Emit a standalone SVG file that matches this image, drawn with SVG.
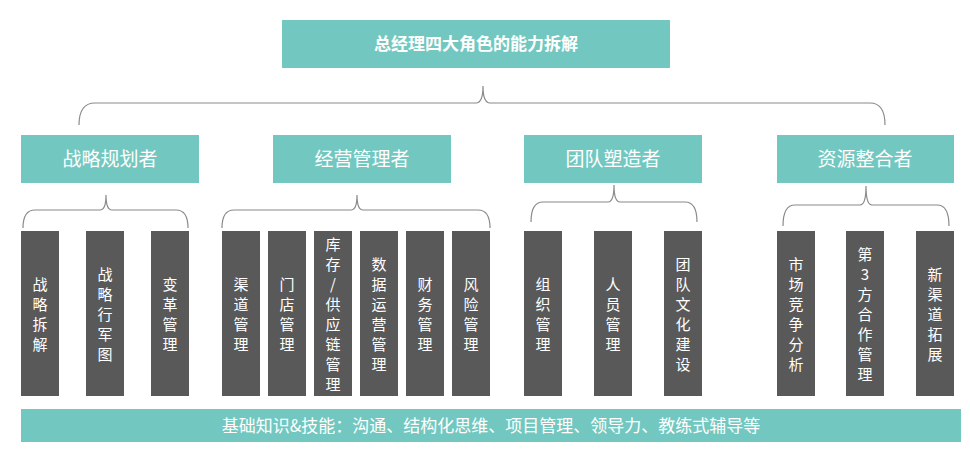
<svg xmlns="http://www.w3.org/2000/svg" width="970" height="452" viewBox="0 0 970 452">
<style>
.t{fill:#72c8c0}.d{fill:#595959}
.w{fill:#fff;font-family:"Noto Sans CJK SC","Noto Sans",sans-serif;text-anchor:middle}
.v{font-size:15px}.c{font-size:19px}
.b{fill:none;stroke:#8a8a8a;stroke-width:1.2}
</style>
<rect width="970" height="452" fill="#fff"/>
<g id="connectors">
<path class="b" d="M79,125 Q79,103 95,103 L476,103 Q483,103 483,86 Q483,103 490,103 L870,103 Q885,103 885,125"/>
<path class="b" d="M23,228 Q23,210 35,210 L100,210 Q106,210 106,195 Q106,210 112,210 L176,210 Q188,210 188,228"/>
<path class="b" d="M222,228 Q222,210 234,210 L351,210 Q357,210 357,195 Q357,210 363,210 L478,210 Q490,210 490,228"/>
<path class="b" d="M531,222 Q531,202 543,202 L608,202 Q614,202 614,185 Q614,202 620,202 L685,202 Q697,202 697,222"/>
<path class="b" d="M783,226 Q783,205 795,205 L860,205 Q866,205 866,186 Q866,205 872,205 L937,205 Q949,205 949,226"/>
</g>
<g id="title"><rect class="t" x="282" y="20" width="388" height="48"/><text class="w" x="476" y="50" font-size="17" font-weight="bold">总经理四大角色的能力拆解</text></g>
<g id="cat1"><rect class="t" x="21" y="135" width="178" height="48"/><text class="w c" x="110" y="166">战略规划者</text></g>
<g id="cat2"><rect class="t" x="273" y="135" width="178" height="48"/><text class="w c" x="362" y="166">经营管理者</text></g>
<g id="cat3"><rect class="t" x="524" y="135" width="178" height="48"/><text class="w c" x="613" y="166">团队塑造者</text></g>
<g id="cat4"><rect class="t" x="777" y="135" width="177" height="48"/><text class="w c" x="865" y="166">资源整合者</text></g>
<g id="i1"><rect class="d" x="21" y="231" width="38" height="165"/><text class="w v" x="40"><tspan x="40" y="290">战</tspan><tspan x="40" dy="20">略</tspan><tspan x="40" dy="20">拆</tspan><tspan x="40" dy="20">解</tspan></text></g>
<g id="i2"><rect class="d" x="86" y="231" width="38" height="165"/><text class="w v"><tspan x="105" y="280">战</tspan><tspan x="105" dy="20">略</tspan><tspan x="105" dy="20">行</tspan><tspan x="105" dy="20">军</tspan><tspan x="105" dy="20">图</tspan></text></g>
<g id="i3"><rect class="d" x="151" y="231" width="38" height="165"/><text class="w v"><tspan x="170" y="290">变</tspan><tspan x="170" dy="20">革</tspan><tspan x="170" dy="20">管</tspan><tspan x="170" dy="20">理</tspan></text></g>
<g id="i4"><rect class="d" x="222" y="231" width="38" height="165"/><text class="w v"><tspan x="241" y="290">渠</tspan><tspan x="241" dy="20">道</tspan><tspan x="241" dy="20">管</tspan><tspan x="241" dy="20">理</tspan></text></g>
<g id="i5"><rect class="d" x="268" y="231" width="38" height="165"/><text class="w v"><tspan x="287" y="290">门</tspan><tspan x="287" dy="20">店</tspan><tspan x="287" dy="20">管</tspan><tspan x="287" dy="20">理</tspan></text></g>
<g id="i6"><rect class="d" x="314" y="231" width="38" height="165"/><text class="w v"><tspan x="333" y="250">库</tspan><tspan x="333" dy="20">存</tspan><tspan x="333" dy="20">/</tspan><tspan x="333" dy="20">供</tspan><tspan x="333" dy="20">应</tspan><tspan x="333" dy="20">链</tspan><tspan x="333" dy="20">管</tspan><tspan x="333" dy="20">理</tspan></text></g>
<g id="i7"><rect class="d" x="360" y="231" width="38" height="165"/><text class="w v"><tspan x="379" y="270">数</tspan><tspan x="379" dy="20">据</tspan><tspan x="379" dy="20">运</tspan><tspan x="379" dy="20">营</tspan><tspan x="379" dy="20">管</tspan><tspan x="379" dy="20">理</tspan></text></g>
<g id="i8"><rect class="d" x="406" y="231" width="38" height="165"/><text class="w v"><tspan x="425" y="290">财</tspan><tspan x="425" dy="20">务</tspan><tspan x="425" dy="20">管</tspan><tspan x="425" dy="20">理</tspan></text></g>
<g id="i9"><rect class="d" x="452" y="231" width="38" height="165"/><text class="w v"><tspan x="471" y="290">风</tspan><tspan x="471" dy="20">险</tspan><tspan x="471" dy="20">管</tspan><tspan x="471" dy="20">理</tspan></text></g>
<g id="i10"><rect class="d" x="524" y="231" width="38" height="165"/><text class="w v"><tspan x="543" y="290">组</tspan><tspan x="543" dy="20">织</tspan><tspan x="543" dy="20">管</tspan><tspan x="543" dy="20">理</tspan></text></g>
<g id="i11"><rect class="d" x="594" y="231" width="38" height="165"/><text class="w v"><tspan x="613" y="290">人</tspan><tspan x="613" dy="20">员</tspan><tspan x="613" dy="20">管</tspan><tspan x="613" dy="20">理</tspan></text></g>
<g id="i12"><rect class="d" x="664" y="231" width="38" height="165"/><text class="w v"><tspan x="683" y="270">团</tspan><tspan x="683" dy="20">队</tspan><tspan x="683" dy="20">文</tspan><tspan x="683" dy="20">化</tspan><tspan x="683" dy="20">建</tspan><tspan x="683" dy="20">设</tspan></text></g>
<g id="i13"><rect class="d" x="777" y="231" width="38" height="165"/><text class="w v"><tspan x="796" y="270">市</tspan><tspan x="796" dy="20">场</tspan><tspan x="796" dy="20">竞</tspan><tspan x="796" dy="20">争</tspan><tspan x="796" dy="20">分</tspan><tspan x="796" dy="20">析</tspan></text></g>
<g id="i14"><rect class="d" x="846" y="231" width="38" height="165"/><text class="w v"><tspan x="865" y="260">第</tspan><tspan x="865" dy="20">3</tspan><tspan x="865" dy="20">方</tspan><tspan x="865" dy="20">合</tspan><tspan x="865" dy="20">作</tspan><tspan x="865" dy="20">管</tspan><tspan x="865" dy="20">理</tspan></text></g>
<g id="i15"><rect class="d" x="916" y="231" width="38" height="165"/><text class="w v"><tspan x="935" y="280">新</tspan><tspan x="935" dy="20">渠</tspan><tspan x="935" dy="20">道</tspan><tspan x="935" dy="20">拓</tspan><tspan x="935" dy="20">展</tspan></text></g>
<g id="base"><rect class="t" x="21" y="409" width="940" height="33"/><text class="w" x="491" y="432" font-size="17">基础知识&amp;技能：沟通、结构化思维、项目管理、领导力、教练式辅导等</text></g>
</svg>
